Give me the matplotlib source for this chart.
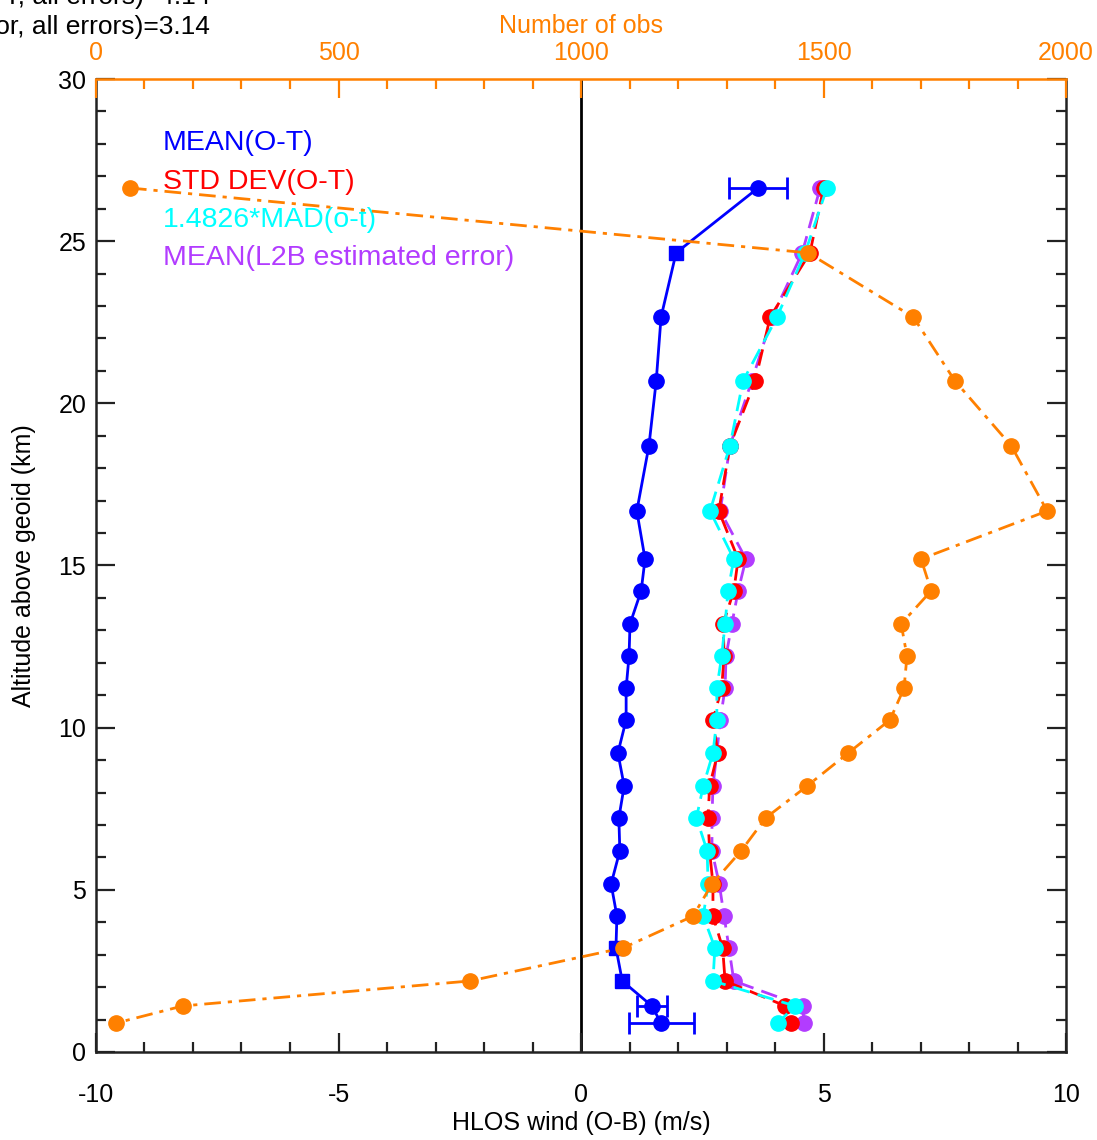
import numpy as np
from matplotlib import pyplot as plt

plt.rcParams['font.family'] = ['Liberation Sans', 'DejaVu Sans']
plt.rcParams['axes.unicode_minus'] = False

# altitude levels (km)
alt = [26.64, 24.64, 22.66, 20.69, 18.69, 16.68, 15.2, 14.22, 13.2, 12.21, 11.22,
       10.24, 9.22, 8.2, 7.22, 6.2, 5.18, 4.19, 3.21, 2.19, 1.42, 0.89]

mean_ot = [3.65, 1.96, 1.65, 1.55, 1.40, 1.15, 1.32, 1.24, 1.01, 0.99, 0.93,
           0.93, 0.76, 0.89, 0.78, 0.80, 0.62, 0.74, 0.72, 0.85, 1.46, 1.65]
mean_err = [0.6, 0, 0, 0, 0, 0, 0, 0, 0, 0, 0,
            0, 0, 0, 0, 0, 0, 0, 0, 0, 0.31, 0.67]
square_idx = [1, 18, 19]

std_ot = [5.0, 4.72, 3.90, 3.59, 3.07, 2.84, 3.24, 3.15, 2.93, 2.95, 2.90,
          2.72, 2.82, 2.65, 2.62, 2.65, 2.72, 2.72, 2.92, 2.97, 4.21, 4.32]
mad_ot = [5.07, 4.62, 4.04, 3.34, 3.07, 2.66, 3.15, 3.03, 2.97, 2.90, 2.80,
          2.80, 2.72, 2.52, 2.38, 2.60, 2.62, 2.52, 2.76, 2.72, 4.41, 4.06]
l2b_err = [4.93, 4.56, 3.94, 3.52, 3.07, 2.87, 3.40, 3.24, 3.11, 2.99, 2.97,
           2.87, 2.80, 2.72, 2.70, 2.70, 2.85, 2.95, 3.05, 3.15, 4.57, 4.60]

n_obs = [70, 1468, 1685, 1771, 1887, 1961, 1701, 1722, 1660, 1672, 1666,
         1637, 1551, 1466, 1381, 1330, 1270, 1231, 1087, 771, 179, 41]

BLUE = "#0000ff"
RED = "#ff0000"
CYAN = "#00ffff"
PURPLE = "#b23cff"
ORANGE = "#ff8000"
FS = 18

fig = plt.figure(figsize=(10.97, 11.40), dpi=100)
ax = fig.add_axes([0.0875, 0.0772, 0.8843, 0.8535])

ax.axvline(0, color="black", lw=2, zorder=1)

# error stats, dashed
ms = 11
ax.plot(l2b_err, alt, color=PURPLE, ls=(0, (6, 3)), lw=2, marker="o", ms=ms, zorder=3)
ax.plot(std_ot, alt, color=RED, ls=(0, (6, 3)), lw=2, marker="o", ms=ms, zorder=4)
ax.plot(mad_ot, alt, color=CYAN, ls=(0, (6, 3)), lw=2, marker="o", ms=ms, zorder=5)

# mean O-T
ax.plot(mean_ot, alt, color=BLUE, lw=2, zorder=6)
circ = [i for i in range(len(alt)) if i not in square_idx]
ax.plot([mean_ot[i] for i in circ], [alt[i] for i in circ], ls="none",
        marker="o", ms=ms, color=BLUE, zorder=6)
ax.plot([mean_ot[i] for i in square_idx], [alt[i] for i in square_idx], ls="none",
        marker="s", ms=10, color=BLUE, zorder=6)
eb = [i for i in range(len(alt)) if mean_err[i] > 0]
ax.errorbar([mean_ot[i] for i in eb], [alt[i] for i in eb],
            xerr=[mean_err[i] for i in eb], fmt="none", ecolor=BLUE,
            elinewidth=2, capsize=8, capthick=2, zorder=6)

ax.set_xlim(-10, 10)
ax.set_ylim(0, 30)
ax.set_xticks([-10, -5, 0, 5, 10])
ax.set_xticks(np.arange(-10, 11, 1), minor=True)
ax.set_yticks([0, 5, 10, 15, 20, 25, 30])
ax.set_yticks(np.arange(0, 31, 1), minor=True)
ax.tick_params(which="both", direction="in", right=True, top=False,
               width=1.6, color="#222222", labelsize=FS)
ax.tick_params(which="major", length=14)
ax.tick_params(which="minor", length=7)
ax.tick_params(axis="x", pad=22)
ax.tick_params(axis="y", pad=7)
for s in ax.spines.values():
    s.set_linewidth(1.8)
    s.set_color("#222222")
ax.spines["top"].set_visible(False)
ax.set_xlabel("HLOS wind (O-B) (m/s)", fontsize=FS, labelpad=3)
ax.set_ylabel("Altitude above geoid (km)", fontsize=FS, labelpad=16)

# number of obs on top axis
ax2 = ax.twiny()
ax2.plot(n_obs, alt, color=ORANGE, ls=(0, (6, 2.5, 1.5, 2.5)), lw=2,
         marker="o", ms=ms, zorder=7)
ax2.set_xlim(0, 2000)
ax2.set_xticks([0, 500, 1000, 1500, 2000])
ax2.set_xticks(np.arange(0, 2001, 100), minor=True)
ax2.tick_params(which="both", direction="in", color=ORANGE, labelcolor=ORANGE,
                width=1.6, labelsize=FS, pad=10)
ax2.tick_params(which="major", length=14)
ax2.tick_params(which="minor", length=7)
for k in ["left", "right", "bottom"]:
    ax2.spines[k].set_visible(False)
ax2.spines["top"].set_color(ORANGE)
ax2.spines["top"].set_linewidth(1.8)
ax2.set_xlabel("Number of obs", color=ORANGE, fontsize=FS, labelpad=6)

# legend as coloured text
labels = ["MEAN(O-T)", "STD DEV(O-T)", "1.4826*MAD(o-t)", "MEAN(L2B estimated error)"]
label_colors = [BLUE, RED, CYAN, PURPLE]
label_y = [28.03, 26.83, 25.66, 24.48]
for lab, c, yy in zip(labels, label_colors, label_y):
    ax.text(-8.62, yy, lab, color=c, fontsize=20.5, va="center", ha="left", zorder=10)

# partially cut summary text in top-left, as in the original
fig.text(210 / 1097, 1 - 27 / 1140, "MEAN(L2B estimated error, all errors)=3.14",
         ha="right", va="center", fontsize=19)
fig.text(210 / 1097, 1 + 3 / 1140, "STD DEV(O-T, all errors)=4.14",
         ha="right", va="center", fontsize=19)

fig.savefig("out.png", dpi=100)
